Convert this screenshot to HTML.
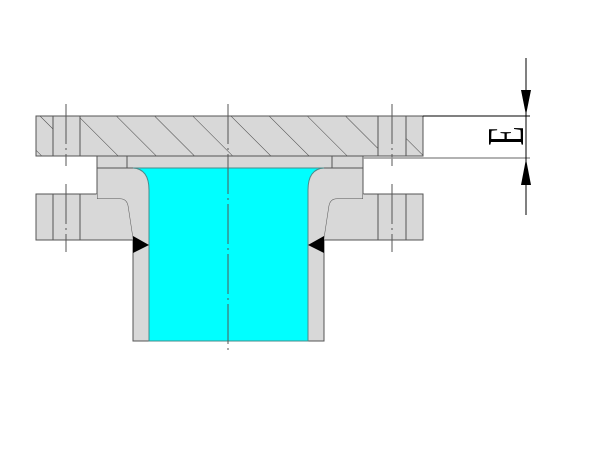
<!DOCTYPE html>
<html><head><style>body{margin:0;background:#fff}svg{display:block}</style></head>
<body>
<svg width="600" height="450" xmlns="http://www.w3.org/2000/svg">
<defs>
<pattern id="h" patternUnits="userSpaceOnUse" width="27" height="27" patternTransform="rotate(-45)">
<rect width="27" height="27" fill="#d8d8d8"/><line x1="0" y1="0" x2="0" y2="27" stroke="#444" stroke-width="1"/>
</pattern>
</defs>
<rect x="36" y="116" width="387" height="40" fill="url(#h)" stroke="#555" stroke-width="1"/>
<rect x="53" y="116" width="27" height="40" fill="#d8d8d8" stroke="#555"/>
<rect x="378" y="116" width="28" height="40" fill="#d8d8d8" stroke="#555"/>
<path d="M97,156 L363,156 L363,199 L337,199 Q330,199 329,207 L324,240 L324,341 L133,341 L133,240 L128,207 Q127,199 120,199 L97,199 Z" fill="#d8d8d8" stroke="#555"/>
<line x1="97" y1="168" x2="363" y2="168" stroke="#555"/>
<line x1="127" y1="156" x2="127" y2="168" stroke="#555"/>
<line x1="332" y1="156" x2="332" y2="168" stroke="#555"/>
<rect x="36" y="194" width="61" height="46" fill="#d8d8d8" stroke="#555"/>
<path d="M97,194 L97,199 L120,199 Q127,199 128,207 L133,240 L36,240" fill="#d8d8d8" stroke="none"/>
<line x1="36" y1="240" x2="133" y2="240" stroke="#555"/>
<line x1="53" y1="194" x2="53" y2="240" stroke="#555"/>
<line x1="80" y1="194" x2="80" y2="240" stroke="#555"/>
<rect x="363" y="194" width="60" height="46" fill="#d8d8d8" stroke="#555"/>
<path d="M363,194 L363,199 L337,199 Q330,199 329,207 L324,240 L423,240" fill="#d8d8d8" stroke="none"/>
<line x1="324" y1="240" x2="423" y2="240" stroke="#555"/>
<line x1="378" y1="194" x2="378" y2="240" stroke="#555"/>
<line x1="406" y1="194" x2="406" y2="240" stroke="#555"/>
<path d="M149,341 L149,190 Q149,169 133,168 L324,168 Q308,169 308,190 L308,341 Z" fill="#00ffff" stroke="#4a8a8a" stroke-width="1"/>
<polygon points="133,236 149,245 133,253" fill="#000"/>
<polygon points="324,236 308,245 324,253" fill="#000"/>
<g stroke="#555" stroke-width="1" stroke-dasharray="40,4,2,4">
<line x1="228" y1="104" x2="228" y2="352"/>
<line x1="66" y1="104" x2="66" y2="166"/>
<line x1="66" y1="184" x2="66" y2="252"/>
<line x1="392" y1="104" x2="392" y2="166"/>
<line x1="392" y1="184" x2="392" y2="252"/>
</g>
<line x1="423" y1="116" x2="530" y2="116" stroke="#000"/>
<line x1="363" y1="158" x2="530" y2="158" stroke="#999" stroke-width="1.5"/>
<line x1="526" y1="58" x2="526" y2="215" stroke="#000"/>
<polygon points="521,90 531,90 526,115" fill="#000"/>
<polygon points="521,185 531,185 526,159" fill="#000"/>
<text x="0" y="0" transform="translate(523,136) rotate(-90) scale(0.6,1)" font-family="Liberation Serif, serif" font-size="52" text-anchor="middle">E</text>
</svg>
</body></html>
